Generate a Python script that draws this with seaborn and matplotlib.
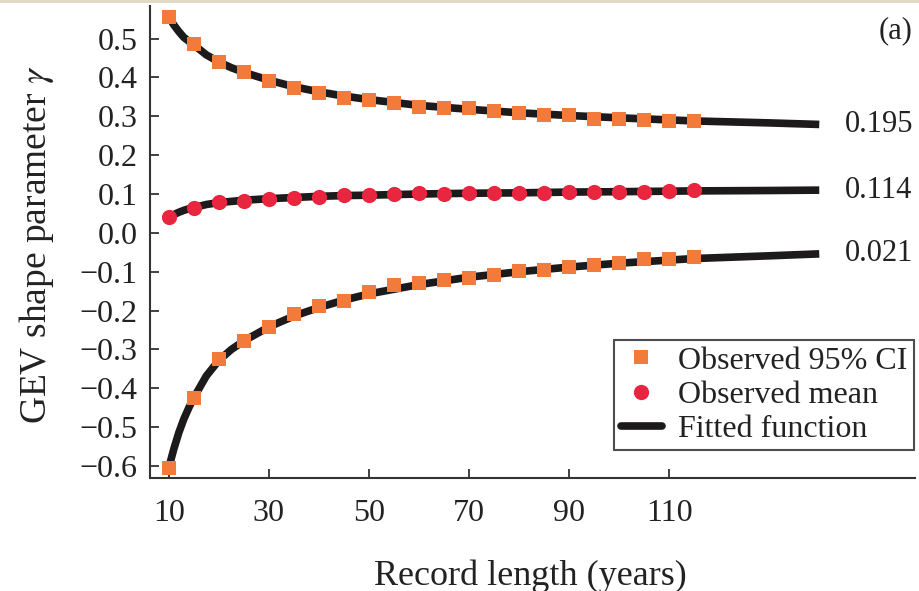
import numpy as np
import pandas as pd
import seaborn as sns
import matplotlib
matplotlib.use("Agg")
import matplotlib.pyplot as plt
from matplotlib.lines import Line2D
from matplotlib.ticker import FixedLocator, FuncFormatter

# ---- data ----
record_length = [10, 15, 20, 25, 30, 35, 40, 45, 50, 55, 60, 65, 70, 75, 80, 85, 90, 95, 100, 105, 110, 115]
ci_upper = [0.556, 0.486, 0.440, 0.414, 0.391, 0.374, 0.361, 0.346, 0.342, 0.335, 0.324, 0.321,
            0.321, 0.314, 0.308, 0.303, 0.304, 0.294, 0.294, 0.291, 0.287, 0.287]
obs_mean = [0.040, 0.064, 0.079, 0.083, 0.087, 0.090, 0.093, 0.098, 0.098, 0.100, 0.102, 0.100,
            0.102, 0.103, 0.103, 0.103, 0.104, 0.104, 0.104, 0.104, 0.108, 0.111]
ci_lower = [-0.604, -0.424, -0.325, -0.279, -0.241, -0.210, -0.188, -0.174, -0.151, -0.134, -0.129, -0.120,
            -0.117, -0.108, -0.099, -0.095, -0.087, -0.082, -0.078, -0.067, -0.067, -0.061]

fit_x = [10, 11, 12, 13, 14, 15, 17.5, 20, 22.5, 25, 30, 35, 40, 45, 50, 60, 70, 80, 90, 100, 115, 130, 140]
fit_upper = [0.556, 0.535, 0.518, 0.503, 0.493, 0.484, 0.458, 0.440, 0.425, 0.413, 0.393, 0.376, 0.363,
             0.352, 0.343, 0.328, 0.318, 0.309, 0.302, 0.296, 0.288, 0.283, 0.279]
fit_mean = [0.040, 0.047, 0.053, 0.058, 0.062, 0.065, 0.073, 0.078, 0.081, 0.084, 0.088, 0.091, 0.094,
            0.096, 0.097, 0.100, 0.102, 0.103, 0.105, 0.106, 0.108, 0.109, 0.110]
fit_lower = [-0.604, -0.556, -0.514, -0.479, -0.450, -0.424, -0.368, -0.328, -0.300, -0.278, -0.242, -0.214,
             -0.192, -0.173, -0.157, -0.133, -0.114, -0.100, -0.088, -0.078, -0.066, -0.059, -0.054]

end_labels = ["0.195", "0.114", "0.021"]
x_ticks = [10, 30, 50, 70, 90, 110]
y_ticks = [-0.6, -0.5, -0.4, -0.3, -0.2, -0.1, 0.0, 0.1, 0.2, 0.3, 0.4, 0.5]

# ---- style ----
sns.set_theme(style="ticks")
plt.rcParams["font.family"] = ["Liberation Serif", "DejaVu Serif"]
plt.rcParams["mathtext.fontset"] = "stix"
FS_TICK = 23
FS_XLAB = 26
FS_YLAB = 27
FS_LEG = 23
FS_TXT = 22
ORANGE = "#F27A3B"
RED = "#E8263F"
BLACK = "#1c1a1a"
AXC = "#333333"
TXT = "#222222"

fig = plt.figure(figsize=(9.19, 5.91), dpi=100)
ax = fig.add_axes([0.163, 0.191, 0.833, 0.799])

fits = pd.DataFrame({"x": fit_x * 3,
                     "y": fit_upper + fit_mean + fit_lower,
                     "g": ["u"] * len(fit_x) + ["m"] * len(fit_x) + ["l"] * len(fit_x)})
for g in ["u", "m", "l"]:
    d = fits[fits["g"] == g]
    sns.lineplot(data=d, x="x", y="y", ax=ax, color=BLACK, lw=5.5, sort=False,
                 solid_capstyle="butt", zorder=2)

sns.scatterplot(x=record_length, y=ci_upper, ax=ax, marker="s", s=95, color=ORANGE,
                linewidth=0, zorder=3)
sns.scatterplot(x=record_length, y=ci_lower, ax=ax, marker="s", s=95, color=ORANGE,
                linewidth=0, zorder=3)
sns.scatterplot(x=record_length, y=obs_mean, ax=ax, marker="o", s=120, color=RED,
                linewidth=0, zorder=3)

ax.set_xlim(6.2, 159.2)
ax.set_ylim(-0.631, 0.584)

ax.xaxis.set_major_locator(FixedLocator(x_ticks))
ax.yaxis.set_major_locator(FixedLocator(y_ticks))
ax.yaxis.set_major_formatter(FuncFormatter(lambda v, p: f"{v:.1f}".replace("-", "\u2212")))
ax.tick_params(direction="in", length=6.5, width=1.3, color=AXC, labelsize=FS_TICK,
               labelcolor=TXT)
ax.tick_params(axis="x", pad=15)
ax.tick_params(axis="y", pad=9)

for s in ["top", "right"]:
    ax.spines[s].set_visible(False)
for s in ["left", "bottom"]:
    ax.spines[s].set_color(AXC)
    ax.spines[s].set_linewidth(1.5)

ax.set_xlabel("Record length (years)", fontsize=FS_XLAB, color=TXT)
ax.set_ylabel("GEV shape parameter $\\gamma$", fontsize=FS_YLAB, color=TXT)
ax.xaxis.set_label_coords(0.497, -0.172)
ax.yaxis.set_label_coords(-0.122, 0.494)

# end labels next to the fitted lines
for lab, yv in zip(end_labels, [fit_upper[-1], fit_mean[-1], fit_lower[-1]]):
    ax.text(145.2, yv, lab, fontsize=FS_TXT, color=TXT, va="center", ha="left")

ax.text(158.6, 0.52, "(a)", fontsize=FS_TXT, color=TXT, va="center", ha="right")

handles = [
    Line2D([], [], marker="s", ls="none", color=ORANGE, markersize=9.5, markeredgewidth=0),
    Line2D([], [], marker="o", ls="none", color=RED, markersize=11, markeredgewidth=0),
    Line2D([], [], color=BLACK, lw=5.5),
]
leg = ax.legend(handles, ["Observed 95% CI", "Observed mean", "Fitted function"],
                loc="lower right", bbox_to_anchor=(0.998, 0.059), fontsize=FS_LEG,
                frameon=True, fancybox=False, handlelength=1.3, handletextpad=0.5,
                labelspacing=0.15, borderpad=0.2, borderaxespad=0.0)
leg.get_frame().set_edgecolor(TXT)
leg.get_frame().set_linewidth(1.5)
for t in leg.get_texts():
    t.set_color(TXT)

fig.add_artist(Line2D([0, 1], [0.998, 0.998], transform=fig.transFigure,
                      color="#ddd8c0", lw=2))

fig.savefig("out.png", dpi=100)
